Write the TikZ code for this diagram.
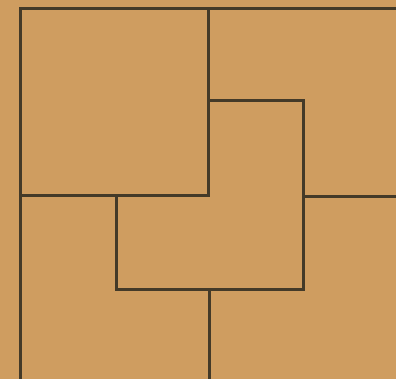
\documentclass[tikz,border=0pt]{standalone}
\definecolor{paper}{RGB}{207,157,96}
\definecolor{ink}{RGB}{68,58,40}
\begin{document}
\begin{tikzpicture}[x=1pt,y=-1pt,line width=3pt,line cap=rect,line join=miter,
  wall/.style={draw=ink}]
\fill[paper] (0,0) rectangle (396,379);
\useasboundingbox (0,0) rectangle (396,379);
\draw[wall] (20,379) -- (20,9) -- (396,9);
\draw[wall] (208,9) -- (208,196) -- (20,196);
\draw[wall] (208,101) -- (303,101) -- (303,289) -- (116,289) -- (116,196);
\draw[wall] (303,197) -- (396,197);
\draw[wall] (209,289) -- (209,379);
\end{tikzpicture}
\end{document}
